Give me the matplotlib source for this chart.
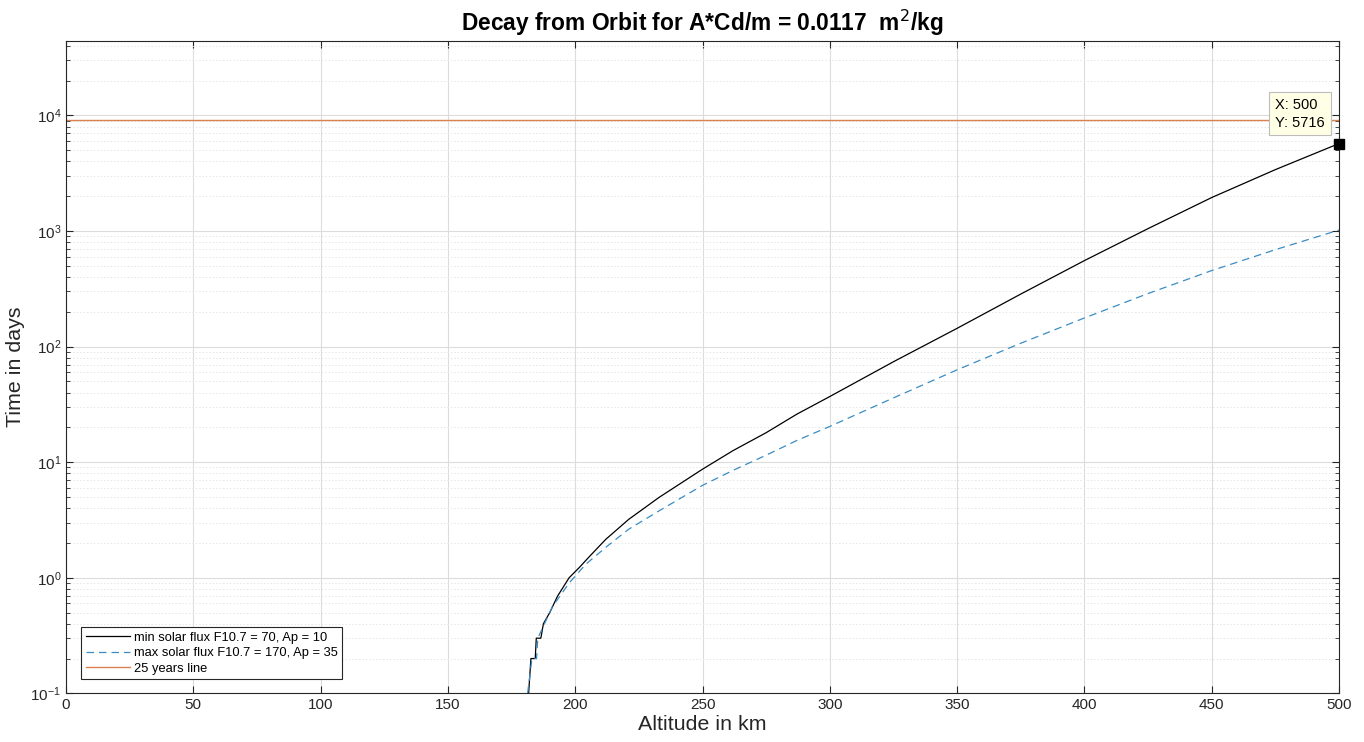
import numpy as np
import matplotlib.pyplot as plt
from matplotlib.ticker import LogLocator, MultipleLocator

plt.rcParams['font.family'] = ['Liberation Sans', 'DejaVu Sans']

# Decay time vs. starting altitude
alt_min = [181.7, 182.6, 184.3, 184.7, 186.5, 187.5, 190.0, 193.0, 197.6, 201.5, 205.5,
           212.0, 221.0, 233.0, 250.0, 262.0, 275.0, 287.0, 300.0, 325.0, 350.0, 375.0,
           400.0, 425.0, 450.0, 475.0, 500.0]
days_min = [0.1, 0.2, 0.2, 0.3, 0.3, 0.4, 0.5, 0.69, 1.0, 1.22, 1.52,
            2.15, 3.2, 4.97, 8.7, 12.6, 18.0, 26.0, 37.0, 74.0, 144.0, 285.0,
            555.0, 1050.0, 1950.0, 3400.0, 5716.0]

alt_max = [181.3, 183.0, 184.8, 185.3, 191.0, 197.6, 204.0, 212.6, 221.0, 233.0,
           250.0, 262.0, 275.0, 287.0, 300.0, 325.0, 350.0, 375.0, 400.0, 425.0,
           450.0, 475.0, 500.0]
days_max = [0.1, 0.2, 0.2, 0.3, 0.56, 0.9, 1.3, 1.88, 2.63, 3.8,
            6.3, 8.5, 11.5, 15.4, 20.4, 36.0, 63.0, 107.0, 177.0, 288.0,
            455.0, 690.0, 1020.0]

line_alt = [0, 500]
line_days = [25 * 365.25, 25 * 365.25]

tip_x, tip_y = 500, 5716

fig = plt.figure(figsize=(13.64, 7.42), dpi=100)
ax = fig.add_axes([0.0484, 0.0656, 0.9333, 0.879])

ax.plot(alt_min, days_min, color='black', lw=0.9, label='min solar flux F10.7 = 70, Ap = 10')
ax.plot(alt_max, days_max, color='#3A8CC4', lw=0.9, dashes=(6, 4),
        label='max solar flux F10.7 = 170, Ap = 35')
ax.plot(line_alt, line_days, color='#D9824F', lw=1.0, label='25 years line')

# data tip
ax.plot([tip_x], [tip_y], marker='s', color='black', ms=7, clip_on=False, zorder=5)
ax.annotate('X: %d\nY: %d' % (tip_x, tip_y), xy=(tip_x, tip_y), xytext=(-46, 10),
            textcoords='offset points', fontsize=10.5, va='bottom', ha='left',
            linespacing=1.35,
            bbox=dict(boxstyle='square,pad=0.4', fc='#FFFFE6', ec='#BDBDBD', lw=0.8),
            zorder=6)

ax.set_yscale('log')
ax.set_xlim(0, 500)
ax.set_ylim(0.1, 4.4e4)
ax.xaxis.set_major_locator(MultipleLocator(50))
ax.yaxis.set_major_locator(LogLocator(base=10, numticks=20))
ax.yaxis.set_minor_locator(LogLocator(base=10, subs=np.arange(2, 10), numticks=20))
ax.yaxis.set_minor_formatter(plt.NullFormatter())

ax.grid(True, which='major', color='#DCDCDC', lw=0.8)
ax.grid(True, which='minor', axis='y', color='#E6E6E6', lw=0.7, ls=(0, (1.5, 2)))
ax.set_axisbelow(True)

ax.tick_params(which='both', direction='in', top=True, right=True, labelsize=11,
               color='#262626', labelcolor='#262626')
ax.tick_params(which='major', length=5)
ax.tick_params(which='minor', length=3)
for s in ax.spines.values():
    s.set_color('#262626')
    s.set_linewidth(0.8)

ax.set_xlabel('Altitude in km', fontsize=15.4, color='#262626', labelpad=2)
ax.set_ylabel('Time in days', fontsize=15.4, color='#262626', labelpad=4)
ax.set_title('Decay from Orbit for A*Cd/m = 0.0117  m$^2$/kg', fontsize=16.4,
             fontweight='bold', pad=7)

leg = ax.legend(loc='lower left', bbox_to_anchor=(0.007, 0.012), fontsize=9.3,
                frameon=True, fancybox=False, edgecolor='#262626', framealpha=1,
                borderpad=0.35, labelspacing=0.25, handlelength=3.4, handletextpad=0.3)
leg.get_frame().set_linewidth(0.8)

plt.savefig('out.png', dpi=100)
